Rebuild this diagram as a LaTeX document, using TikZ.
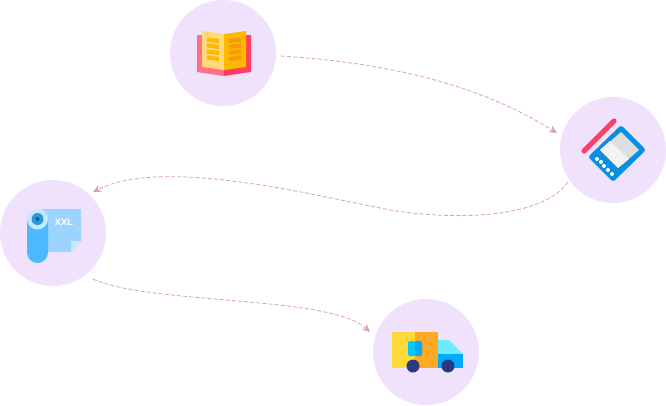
\documentclass[tikz,border=0pt]{standalone}
\usepackage{fontspec}
\setmainfont{Liberation Sans}
\usetikzlibrary{arrows.meta}
\definecolor{disc}{HTML}{F0E1FC}
\definecolor{trail}{HTML}{DB9FB6}
\definecolor{coral}{HTML}{FF6F88}
\definecolor{crimson}{HTML}{FF3F62}
\definecolor{paper}{HTML}{FFD97A}
\definecolor{amber}{HTML}{FFB800}
\definecolor{deepamber}{HTML}{F79A0A}
\definecolor{azure}{HTML}{0A8FE0}
\definecolor{sheet}{HTML}{9BD5FF}
\definecolor{foldcol}{HTML}{C6E8FF}
\definecolor{rollcol}{HTML}{4DB8FF}
\definecolor{ringcol}{HTML}{2A9BD8}
\definecolor{corecol}{HTML}{0E5A8A}
\definecolor{boxlight}{HTML}{FFD93B}
\definecolor{boxdark}{HTML}{FFA826}
\definecolor{cabcol}{HTML}{6DEBFF}
\definecolor{hoodcol}{HTML}{00AAFF}
\definecolor{glasscol}{HTML}{00C8FF}
\definecolor{wheelcol}{HTML}{2B3A80}
\tikzset{
  stop/.style={circle,fill=disc,minimum size=106*0.75pt,inner sep=0pt},
  trailline/.style={draw=trail,line width=0.6pt,dash pattern=on 3pt off 1.6pt,-{Stealth[length=6pt,width=5.5pt]}},
}
\begin{document}
\begin{tikzpicture}[x=0.75pt,y=-0.75pt]
\useasboundingbox (0,0) rectangle (666,405);
\node[stop] (book) at (223,53) {};
\node[stop] (tablet) at (613,150) {};
\node[stop] (roll) at (53,233) {};
\node[stop] (truck) at (426,352) {};
% book
\fill[coral] (197,35) -- (224,35) -- (224,76) -- (197,72) -- cycle;
\fill[crimson] (224,35) -- (251,35) -- (251,72) -- (224,76) -- cycle;
\fill[paper] (202,31) -- (224,34) -- (224,70) -- (202,67) -- cycle;
\fill[amber] (224,34) -- (246,31) -- (246,67) -- (224,70) -- cycle;
\foreach \y in {39.5,45.5,51.5,57.5} {
  \draw[amber,line width=3pt] (207,\y) -- (219,\y+1.5);
  \draw[deepamber,line width=3pt] (229,\y+1.5) -- (241,\y);
}
% tablet
\draw[crimson,line width=3.8pt,line cap=round] (584,151) -- (614,121);
\fill[azure,rounded corners=2pt] (621,125) -- (646,150) -- (613,182) -- (588,157) -- cycle;
\fill[black!13] (600,150) -- (621,132) -- (639,150) -- (618,168) -- cycle;
\fill[black!5] (600,150) -- (610,141) -- (629,159) -- (618,168) -- cycle;
\foreach \x/\y in {597/159,601/162,604/166,608/170,612/174}
  \fill[white] (\x,\y) circle (2);
% roll
\fill[sheet] (40,209) -- (81,209) -- (81,241) -- (71,252) -- (40,252) -- cycle;
\fill[foldcol] (71,241) -- (81,241) -- (71,252) -- cycle;
\fill[rollcol] (27,219) -- (48,219) -- (48,252.5) arc (0:180:10.5) -- cycle;
\fill[foldcol] (37.5,219) circle (10.5);
\fill[ringcol] (37.5,219) circle (6);
\fill[corecol] (37.5,219) circle (2);
\node[font=\bfseries,text=white,inner sep=0pt,scale=0.7] (size) at (64,222) {XXL};
% truck
\fill[boxlight] (392,332) rectangle (415,368);
\fill[boxdark] (415,332) rectangle (438,368);
\fill[cabcol] (438,340) -- (449,340) -- (463,354) -- (438,354) -- cycle;
\fill[hoodcol] (438,354) rectangle (463,368);
\fill[glasscol,rounded corners=1.5pt] (408,341) rectangle (416,356);
\fill[hoodcol,rounded corners=1.5pt] (415,341) rectangle (422,356);
\fill[wheelcol] (413,366) circle (6.5);
\fill[wheelcol] (448,366) circle (6.5);
% trails
\coordinate (a1) at (281,56);
\coordinate (a2) at (557,133);
\coordinate (b1) at (568,182);
\coordinate (b2) at (93,192);
\coordinate (c1) at (93,279);
\coordinate (c2) at (370,332);
\draw[trailline] (a1) .. controls (390,63) and (480,85) .. (a2);
\draw[trailline] (b1) .. controls (540,222) and (440,220) .. (380,208) .. controls (300,192) and (160,158) .. (b2);
\draw[trailline] (c1) .. controls (150,305) and (330,295) .. (c2);
\end{tikzpicture}
\end{document}
